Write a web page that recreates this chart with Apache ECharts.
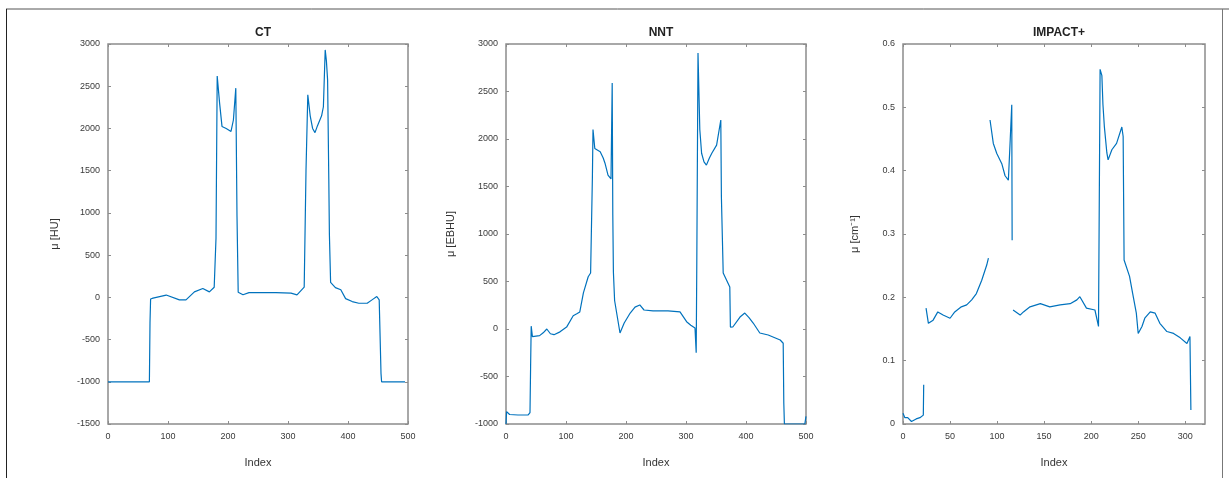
<!DOCTYPE html>
<html>
<head>
<meta charset="utf-8">
<script src="https://cdn.jsdelivr.net/npm/echarts@6/dist/echarts.min.js"></script>
<style>
html,body{margin:0;padding:0;background:#fff;}
#chart{width:1229px;height:478px;}
</style>
</head>
<body>
<div id="chart"></div>
<script>
// ---- Data ----
const titles = ['CT', 'NNT', 'IMPACT+'];
const yLabels = ['\u03bc [HU]', '\u03bc [EBHU]', '\u03bc [cm\u207b\u00b9]'];
const xLabel = 'Index';

// CT
const ctIdx = [0, 69, 70, 71, 75, 97, 119, 130, 144, 158, 169, 177, 180, 182, 186, 190, 197, 205, 209, 213, 215, 217, 225, 235, 280, 305, 315, 327, 330, 333, 337, 341, 345, 349, 356, 359, 362, 364, 366, 368, 369, 371, 379, 388, 396, 407, 418, 432, 440, 448, 452, 455, 456, 495];
const ctVal = [-1000, -1000, -300, -20, -10, 27, -30, -30, 65, 105, 65, 120, 700, 2620, 2300, 2024, 2000, 1965, 2100, 2477, 960, 60, 30, 55, 55, 50, 30, 120, 1500, 2398, 2150, 2000, 1950, 2030, 2150, 2257, 2930, 2800, 2575, 1400, 743, 177, 115, 90, -15, -50, -70, -70, -30, 10, -30, -900, -1000, -1000];

// NNT
const nntIdx = [0, 1, 3, 6, 20, 37, 40, 41, 42, 44, 46, 56, 62, 68, 74, 80, 90, 101, 112, 118, 123, 129, 137, 141, 143, 144, 145, 148, 151, 157, 162, 165, 170, 175, 177, 178, 179, 181, 190, 197, 207, 215, 223, 230, 245, 270, 290, 301, 308, 315, 317, 318, 320, 323, 326, 330, 334, 339, 343, 351, 358, 359, 362, 373, 374, 378, 390, 398, 405, 412, 423, 437, 445, 457, 460, 462, 463, 464, 498, 500];
const nntVal = [-1000, -870, -860, -900, -905, -905, -880, -400, 30, -80, -100, -70, -40, 0, -50, -60, -30, 20, 140, 160, 180, 380, 550, 590, 600, 1600, 2100, 1900, 1880, 1866, 1800, 1745, 1620, 1580, 2590, 1200, 600, 300, -42, 63, 168, 230, 253, 200, 190, 190, 180, 77, 40, 10, -250, 700, 2905, 2100, 1850, 1760, 1725, 1800, 1850, 1936, 2200, 1390, 590, 443, 20, 21, 126, 168, 120, 63, -42, -63, -84, -116, -110, -150, -780, -1000, -1000, -920];

// IMPACT+ (null = gap in the curve)
const impIdx = [0, 2, 5, 9, 14, 18, 21.6, 22, 23, 24.5, 27, 32, 37, 42.6, 50, 55, 62, 67.7, 73, 78, 83.7, 89, 90.8, 91.5, 92.5, 96, 99.7, 105, 108.5, 112, 114, 115.6, 116, 116.5, 117, 124.5, 128, 135, 146, 156, 167, 177.7, 184.8, 188, 195, 204, 207.8, 209.5, 211.4, 212.5, 214, 216.7, 218, 222, 227, 232.6, 234, 235, 240.8, 244, 248, 250, 254, 257, 262.8, 268, 273, 280.5, 287.6, 294.7, 301.8, 305, 306];
const impVal = [0.017, 0.010, 0.010, 0.004, 0.008, 0.010, 0.014, 0.062, null, 0.183, 0.159, 0.164, 0.177, 0.172, 0.167, 0.177, 0.185, 0.188, 0.196, 0.206, 0.227, 0.251, 0.262, null, 0.480, 0.443, 0.427, 0.411, 0.392, 0.385, 0.450, 0.504, 0.290, null, 0.180, 0.172, 0.177, 0.185, 0.190, 0.185, 0.188, 0.190, 0.196, 0.201, 0.183, 0.180, 0.154, 0.560, 0.550, 0.505, 0.470, 0.428, 0.417, 0.433, 0.443, 0.469, 0.454, 0.259, 0.233, 0.207, 0.175, 0.143, 0.154, 0.167, 0.177, 0.175, 0.159, 0.146, 0.143, 0.136, 0.127, 0.138, 0.022];

// Axis tick values
const xTicks = [[0, 100, 200, 300, 400, 500], [0, 100, 200, 300, 400, 500], [0, 50, 100, 150, 200, 250, 300]];
const yTicks = [[-1500, -1000, -500, 0, 500, 1000, 1500, 2000, 2500, 3000],
                [-1000, -500, 0, 500, 1000, 1500, 2000, 2500, 3000],
                [0, 0.1, 0.2, 0.3, 0.4, 0.5, 0.6]];
const xRange = [[0, 500], [0, 500], [0, 321]];
const yRange = [[-1500, 3000], [-1000, 3000], [0, 0.6]];

// ---- Chart ----
const series = [[ctIdx, ctVal], [nntIdx, nntVal], [impIdx, impVal]];
const grids = [
  {left: 108, top: 44, width: 300, height: 380},
  {left: 506, top: 44, width: 300, height: 380},
  {left: 903, top: 44, width: 302, height: 380}
];
const yNameGaps = [48, 50, 43];
const boxColor = '#8c8c8c';
const labelColor = '#3a3a3a';
const fontFamily = 'Liberation Sans, Arial, sans-serif';
const plain = v => String(Math.round(v * 1000) / 1000);

const option = {
  animation: false,
  backgroundColor: '#fff',
  title: titles.map((t, i) => ({
    text: t,
    left: grids[i].left + grids[i].width / 2,
    top: 22,
    textAlign: 'center',
    textStyle: {fontSize: 12, fontWeight: 'bold', color: '#222', fontFamily}
  })),
  grid: grids.map(g => Object.assign({show: true, borderColor: boxColor, borderWidth: 1.5, backgroundColor: '#fff'}, g)),
  xAxis: [],
  yAxis: [],
  series: [],
  graphic: [
    {type: 'line', shape: {x1: 6, y1: 9, x2: 1229, y2: 9}, style: {stroke: '#555', lineWidth: 1}},
    {type: 'line', shape: {x1: 6.5, y1: 9, x2: 6.5, y2: 478}, style: {stroke: '#222', lineWidth: 1}},
    {type: 'line', shape: {x1: 1222.5, y1: 9, x2: 1222.5, y2: 478}, style: {stroke: '#777', lineWidth: 1}}
  ]
};

for (let i = 0; i < 3; i++) {
  const baseX = {
    type: 'value', gridIndex: i, min: xRange[i][0], max: xRange[i][1],
    splitLine: {show: false}, axisLine: {show: false, onZero: false},
    axisTick: {show: true, inside: true, length: 3, lineStyle: {color: boxColor, width: 1}, customValues: xTicks[i]}
  };
  option.xAxis.push(Object.assign({}, baseX, {
    position: 'bottom',
    name: xLabel, nameLocation: 'middle', nameGap: 33,
    nameTextStyle: {fontSize: 11, color: '#333', fontFamily},
    axisLabel: {show: true, customValues: xTicks[i], fontSize: 9, color: labelColor, margin: 8, fontFamily, formatter: plain}
  }));
  option.xAxis.push(Object.assign({}, baseX, {position: 'top', axisLabel: {show: false}}));

  const baseY = {
    type: 'value', gridIndex: i, min: yRange[i][0], max: yRange[i][1],
    splitLine: {show: false}, axisLine: {show: false, onZero: false},
    axisTick: {show: true, inside: true, length: 3, lineStyle: {color: boxColor, width: 1}, customValues: yTicks[i]}
  };
  option.yAxis.push(Object.assign({}, baseY, {
    position: 'left',
    name: yLabels[i], nameLocation: 'middle', nameGap: yNameGaps[i], nameRotate: 90,
    nameTextStyle: {fontSize: 11, color: '#333', fontFamily},
    axisLabel: {show: true, customValues: yTicks[i], fontSize: 9, color: labelColor, margin: 8, fontFamily, formatter: plain}
  }));
  option.yAxis.push(Object.assign({}, baseY, {position: 'right', axisLabel: {show: false}}));

  const xs = series[i][0], ys = series[i][1];
  option.series.push({
    type: 'line',
    xAxisIndex: i * 2, yAxisIndex: i * 2,
    data: xs.map((x, k) => [x, ys[k] === null ? null : ys[k]]),
    showSymbol: false, symbol: 'none',
    connectNulls: false,
    lineStyle: {color: '#0072BD', width: 1.2},
    itemStyle: {color: '#0072BD'},
    clip: true
  });
}

const chart = echarts.init(document.getElementById('chart'), null, {renderer: 'canvas'});
chart.setOption(option);
</script>
</body>
</html>
